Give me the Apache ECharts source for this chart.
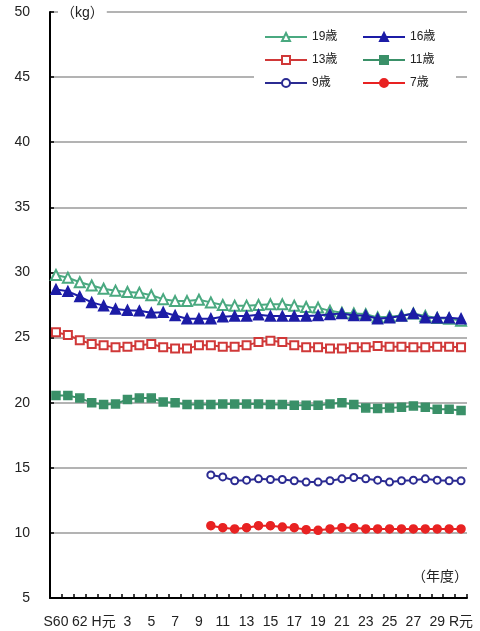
<!DOCTYPE html>
<html>
<head>
<meta charset="utf-8">
<script src="https://cdn.jsdelivr.net/npm/echarts@6/dist/echarts.min.js"></script>
<style>
html,body{margin:0;padding:0;background:#fff;}
#chart{width:480px;height:631px;}
</style>
</head>
<body>
<div id="chart"></div>
<script>
const categories = ['S60','61','62','63','H元','2','3','4','5','6','7','8','9','10','11','12','13','14','15','16','17','18','19','20','21','22','23','24','25','26','27','28','29','30','R元'];
const age19 = [29.8,29.6,29.25,29.0,28.75,28.6,28.5,28.45,28.25,27.95,27.8,27.8,27.9,27.7,27.5,27.45,27.45,27.5,27.55,27.55,27.45,27.35,27.3,27.05,26.9,26.85,26.8,26.55,26.6,26.7,26.85,26.65,26.5,26.45,26.3];
const age16 = [28.7,28.55,28.15,27.7,27.45,27.2,27.1,27.05,26.9,26.95,26.7,26.45,26.45,26.45,26.6,26.65,26.65,26.75,26.65,26.65,26.65,26.65,26.7,26.78,26.85,26.7,26.7,26.45,26.52,26.65,26.85,26.52,26.52,26.52,26.45];
const age13 = [25.4,25.2,24.8,24.5,24.4,24.25,24.3,24.4,24.5,24.25,24.15,24.15,24.4,24.4,24.3,24.3,24.4,24.65,24.75,24.65,24.4,24.25,24.25,24.15,24.15,24.25,24.25,24.35,24.3,24.3,24.25,24.25,24.3,24.3,24.25];
const age11 = [20.55,20.55,20.35,20.0,19.85,19.9,20.25,20.35,20.35,20.05,20.0,19.85,19.85,19.85,19.9,19.9,19.9,19.9,19.85,19.85,19.8,19.8,19.8,19.9,20.0,19.85,19.6,19.55,19.6,19.65,19.75,19.65,19.5,19.5,19.4];
const age9 = [null,null,null,null,null,null,null,null,null,null,null,null,null,14.45,14.3,14.0,14.05,14.15,14.1,14.1,14.0,13.9,13.9,14.0,14.15,14.25,14.15,14.05,13.9,14.0,14.05,14.15,14.05,14.0,14.0];
const age7 = [null,null,null,null,null,null,null,null,null,null,null,null,null,10.55,10.4,10.3,10.4,10.55,10.55,10.45,10.4,10.25,10.2,10.3,10.4,10.4,10.3,10.3,10.3,10.3,10.3,10.3,10.3,10.3,10.3];
const yTicks = {min:5, max:50, interval:5};

const FONT = "'Liberation Sans','Noto Sans CJK JP',sans-serif";
const chart = echarts.init(document.getElementById('chart'), null, {renderer:'canvas'});

function mk(name, data, color, symbol, size, z) {
  return {
    name, type:'line', data, symbol, symbolSize:size, z: z||2,
    showAllSymbol:true, connectNulls:false, smooth:false,
    lineStyle:{color, width:2},
    itemStyle:{color, borderColor:color, borderWidth:1.5},
    emphasis:{disabled:true}
  };
}

const legendCommon = {
  orient:'vertical', itemWidth:42, itemHeight:10, itemGap:11,
  padding:0, z:5,
  textStyle:{fontFamily:FONT, fontSize:12, color:'#222'},
  selectedMode:false
};

chart.setOption({
  animation:false,
  backgroundColor:'#fff',
  grid:{left:50, right:13, top:12, bottom:33, containLabel:false},
  legend:[
    Object.assign({left:264, top:31, data:['19歳','13歳','9歳']}, legendCommon),
    Object.assign({left:362, top:31, data:['16歳','11歳','7歳']}, legendCommon)
  ],
  xAxis:{
    type:'category', data:categories, boundaryGap:true,
    axisLine:{lineStyle:{color:'#000', width:2}},
    axisTick:{show:true, inside:true, length:4, interval:0, lineStyle:{color:'#000', width:1.5}},
    axisLabel:{interval:1, color:'#222', fontSize:14, fontFamily:FONT, margin:17, hideOverlap:false},
    splitLine:{show:false}
  },
  yAxis:{
    type:'value', min:yTicks.min, max:yTicks.max, interval:yTicks.interval,
    axisLine:{show:true, lineStyle:{color:'#000', width:2}},
    axisTick:{show:true, inside:true, length:4, lineStyle:{color:'#000', width:1.5}},
    axisLabel:{color:'#222', fontSize:14, fontFamily:FONT, margin:20},
    splitLine:{show:true, lineStyle:{color:'#9a9a9a', width:1.5}}
  },
  graphic:[
    {type:'rect', left:254, top:24, z:3, shape:{width:202, height:70}, style:{fill:'#fff'}},
    {type:'text', left:58, top:4, z:10, style:{text:'（kg）', fontFamily:FONT, fontSize:14, fill:'#222', backgroundColor:'#fff', padding:[2,3]}},
    {type:'text', right:12, top:570, z:10, style:{text:'（年度）', fontFamily:FONT, fontSize:14, fill:'#222'}}
  ],
  series:[
    mk('19歳', age19, '#4aa980', 'emptyTriangle', 10, 2),
    mk('16歳', age16, '#1c1ca6', 'triangle', 10, 3),
    mk('13歳', age13, '#d03838', 'emptyRect', 8, 2),
    mk('11歳', age11, '#3a9068', 'rect', 8, 2),
    mk('9歳', age9, '#2b2b92', 'emptyCircle', 7, 2),
    mk('7歳', age7, '#e82222', 'circle', 8, 2)
  ]
});
</script>
</body>
</html>
